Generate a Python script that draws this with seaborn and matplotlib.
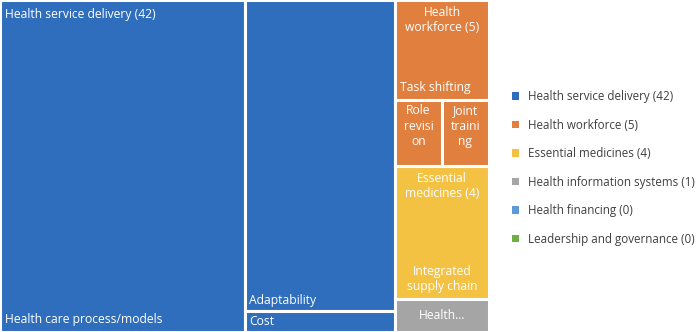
import numpy as np
import pandas as pd
import seaborn as sns
import matplotlib.pyplot as plt
from matplotlib.patches import Patch

# top level groups (counts of studies)
groups = ['Health service delivery (42)', 'Health workforce (5)', 'Essential medicines (4)',
          'Health information systems (1)', 'Health financing (0)', 'Leadership and governance (0)']
group_values = [42, 5, 4, 1, 0, 0]
group_colors = ['#2F6DBD', '#E07F3E', '#F4C243', '#A5A5A5', '#5B9BD5', '#70AD47']

# sub themes in each group
sd_labels = ['Health care process/models', 'Adaptability', 'Cost']
sd_values = [26, 15, 1]
wf_labels = ['Task shifting', 'Role\nrevisi\non', 'Joint\ntraini\nng']
wf_values = [3, 1, 1]
em_labels = ['Integrated\nsupply chain']
em_values = [4]
his_labels = ['Health...']
his_values = [1]

sns.set_theme(style='white')
plt.rcParams['font.family'] = ['Open Sans', 'DejaVu Sans']
FS = 8.7

fig = plt.figure(figsize=(7, 3.32), dpi=100)
ax = fig.add_axes([0, 0, 489 / 700, 1])

total = sum(group_values)
side = total - group_values[0]   # width of the right hand column
H = 1.0


def box(x, y, w, h, color):
    ax.bar(x, h, width=w, bottom=y, align='edge', color=color,
           edgecolor='white', linewidth=2.2)


def label(x, y, s, dx, dy, ha='left', va='top'):
    ax.annotate(s, (x, y), xytext=(dx, dy), textcoords='offset points',
                ha=ha, va=va, color='white', fontsize=FS, linespacing=1.25)


# health service delivery: first child full height, others stacked
x0 = 0
w0 = sd_values[0]
box(x0, 0, w0, H, group_colors[0])
label(x0, H, groups[0], 3.3, -6)
label(x0, 0, sd_labels[0], 3.3, 4, va='bottom')
rest = sum(sd_values[1:])
w1 = rest
y = H
for lab, v in zip(sd_labels[1:], sd_values[1:]):
    h = H * v / rest
    box(w0, y - h, w1, h, group_colors[0])
    label(w0, y - h, lab, 3.3, 3, va='bottom')
    y -= h

# right column: groups stacked from the top
xr = group_values[0]
y = H
# workforce
h_wf = H * group_values[1] / side
h_ts = h_wf * wf_values[0] / group_values[1]
box(xr, y - h_ts, side, h_ts, group_colors[1])
label(xr + side / 2, y, 'Health\nworkforce (5)', 0, -4, ha='center')
label(xr, y - h_ts, wf_labels[0], 3.3, 4, va='bottom')
h_small = h_wf - h_ts
xs = xr
for lab, v in zip(wf_labels[1:], wf_values[1:]):
    w = side * v / sum(wf_values[1:])
    box(xs, y - h_wf, w, h_small, group_colors[1])
    label(xs + w / 2, y - h_ts, lab, 0, -3.5, ha='center')
    xs += w
y -= h_wf
# essential medicines
h_em = H * group_values[2] / side
box(xr, y - h_em, side, h_em, group_colors[2])
label(xr + side / 2, y, 'Essential\nmedicines (4)', 0, -4, ha='center')
label(xr + side / 2, y - h_em, em_labels[0], 0, 4, ha='center', va='bottom')
y -= h_em
# health information systems
h_his = H * group_values[3] / side
box(xr, y - h_his, side, h_his, group_colors[3])
label(xr + side / 2, y - h_his / 2, his_labels[0], 0, 0, ha='center', va='center')

ax.set_xlim(0, total)
ax.set_ylim(0, H)
ax.axis('off')

handles = [Patch(facecolor=c, edgecolor='none') for c in group_colors]
fig.legend(handles, groups, loc='center left', bbox_to_anchor=(501 / 700, 0.494),
           frameon=False, fontsize=8.4, handlelength=0.6, handleheight=0.6,
           handletextpad=0.85, labelspacing=1.33, labelcolor='#404040')

fig.savefig('out.png', dpi=100)
